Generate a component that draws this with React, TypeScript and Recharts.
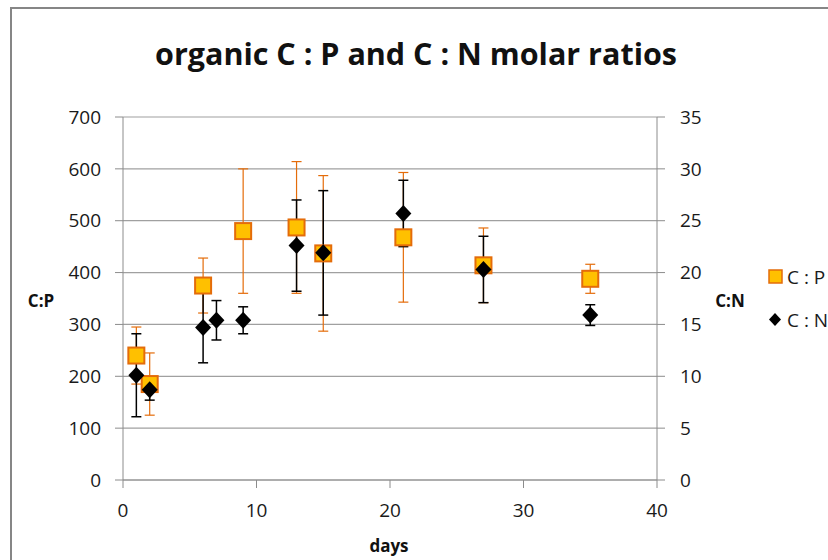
import { ScatterChart, Scatter, XAxis, YAxis, CartesianGrid, ErrorBar } from "recharts";

// C:P (left axis)
const cpDays = [1, 2, 6, 9, 13, 15, 21, 27, 35];
const cpValues = [240, 185, 375, 480, 487, 437, 468, 414, 388];
const cpErrors = [55, 60, 53, 120, 127, 150, 125, 72, 28];

// C:N (right axis)
const cnDays = [1, 2, 6, 7, 9, 13, 15, 21, 27, 35];
const cnValues = [10.1, 8.7, 14.7, 15.4, 15.4, 22.6, 21.9, 25.7, 20.3, 15.9];
const cnErrors = [4, 1, 3.4, 1.9, 1.3, 4.4, 6, 3.2, 3.2, 1];

const dayTicks = [0, 10, 20, 30, 40];
const cpTicks = [0, 100, 200, 300, 400, 500, 600, 700];
const cnTicks = [0, 5, 10, 15, 20, 25, 30, 35];

const FONT = "'Open Sans', 'Noto Sans', sans-serif";
const ORANGE = "#E46C0A";
const GOLD = "#FFC000";

const cpData = cpDays.map((day, i) => ({ day, value: cpValues[i], err: cpErrors[i] }));
const cnData = cnDays.map((day, i) => ({ day, value: cnValues[i], err: cnErrors[i] }));

const SquareDot = (props: any) => {
  const { cx, cy } = props;
  if (cx == null || cy == null) return null;
  return <rect x={cx - 8} y={cy - 8} width={16} height={16} fill={GOLD} stroke={ORANGE} strokeWidth={2} />;
};

const DiamondDot = (props: any) => {
  const { cx, cy } = props;
  if (cx == null || cy == null) return null;
  return <path d={`M${cx},${cy - 8.5} L${cx + 8},${cy} L${cx},${cy + 8.5} L${cx - 8},${cy} Z`} fill="#000" />;
};

const tickStyle = { fontSize: 19, fill: "#1a1a1a", fontFamily: FONT };
const axisTitle: React.CSSProperties = {
  position: "absolute",
  fontFamily: FONT,
  fontWeight: 700,
  fontSize: 17,
  color: "#111",
  transform: "translate(-50%, -50%)",
  whiteSpace: "nowrap",
};

export default function App() {
  return (
    <div style={{ position: "absolute", left: 0, top: 0, width: 828, height: 560, overflow: "hidden", background: "#fff" }}>
      <div style={{ position: "absolute", left: 10, top: 7, width: 900, height: 700, border: "2px solid #868686" }} />
      <div
        style={{
          position: "absolute",
          left: 416,
          top: 53,
          transform: "translate(-50%, -50%)",
          fontFamily: FONT,
          fontWeight: 700,
          fontSize: 30.5,
          color: "#111",
          whiteSpace: "nowrap",
        }}
      >
        organic C : P and C : N molar ratios
      </div>

      <div style={{ position: "absolute", left: 0, top: 0 }}>
        <ScatterChart width={828} height={560} margin={{ top: 117, right: 111, bottom: 40, left: 63 }}>
          <CartesianGrid yAxisId="cp" vertical={false} stroke="#a0a0a0" strokeWidth={1.2} />
          <XAxis
            type="number"
            dataKey="day"
            domain={[0, 40]}
            ticks={dayTicks}
            height={40}
            tickSize={8}
            tickMargin={16}
            stroke="#8c8c8c"
            tick={tickStyle}
          />
          <YAxis
            yAxisId="cp"
            type="number"
            dataKey="value"
            domain={[0, 700]}
            ticks={cpTicks}
            width={60}
            tickSize={8}
            tickMargin={14}
            stroke="#8c8c8c"
            tick={tickStyle}
          />
          <YAxis
            yAxisId="cn"
            orientation="right"
            type="number"
            dataKey="value"
            domain={[0, 35]}
            ticks={cnTicks}
            width={60}
            tickSize={8}
            tickMargin={15}
            stroke="#8c8c8c"
            tick={tickStyle}
          />
          <Scatter name="C : P" data={cpData} yAxisId="cp" shape={SquareDot} isAnimationActive={false}>
            <ErrorBar dataKey="err" direction="y" width={5} stroke={ORANGE} strokeWidth={1.2} />
          </Scatter>
          <Scatter name="C : N" data={cnData} yAxisId="cn" shape={DiamondDot} isAnimationActive={false}>
            <ErrorBar dataKey="err" direction="y" width={5} stroke="#000" strokeWidth={1.5} />
          </Scatter>
        </ScatterChart>
      </div>

      <div style={{ ...axisTitle, left: 41, top: 300 }}>C:P</div>
      <div style={{ ...axisTitle, left: 730, top: 300 }}>C:N</div>
      <div style={{ ...axisTitle, left: 389, top: 545 }}>days</div>

      {/* legend */}
      <div style={{ position: "absolute", left: 768, top: 264, width: 120, fontFamily: FONT, fontSize: 19, color: "#1a1a1a", whiteSpace: "nowrap" }}>
        <div style={{ display: "flex", alignItems: "center", height: 26 }}>
          <svg width={16} height={16} style={{ marginRight: 3, flexShrink: 0 }}>
            <rect x={1} y={1} width={13} height={13} fill={GOLD} stroke={ORANGE} strokeWidth={1.5} />
          </svg>
          <span>C : P</span>
        </div>
        <div style={{ display: "flex", alignItems: "center", height: 26, marginTop: 17 }}>
          <svg width={16} height={16} style={{ marginRight: 3, flexShrink: 0 }}>
            <path d="M7,1 L13,7.5 L7,14 L1,7.5 Z" fill="#000" />
          </svg>
          <span>C : N</span>
        </div>
      </div>
    </div>
  );
}
